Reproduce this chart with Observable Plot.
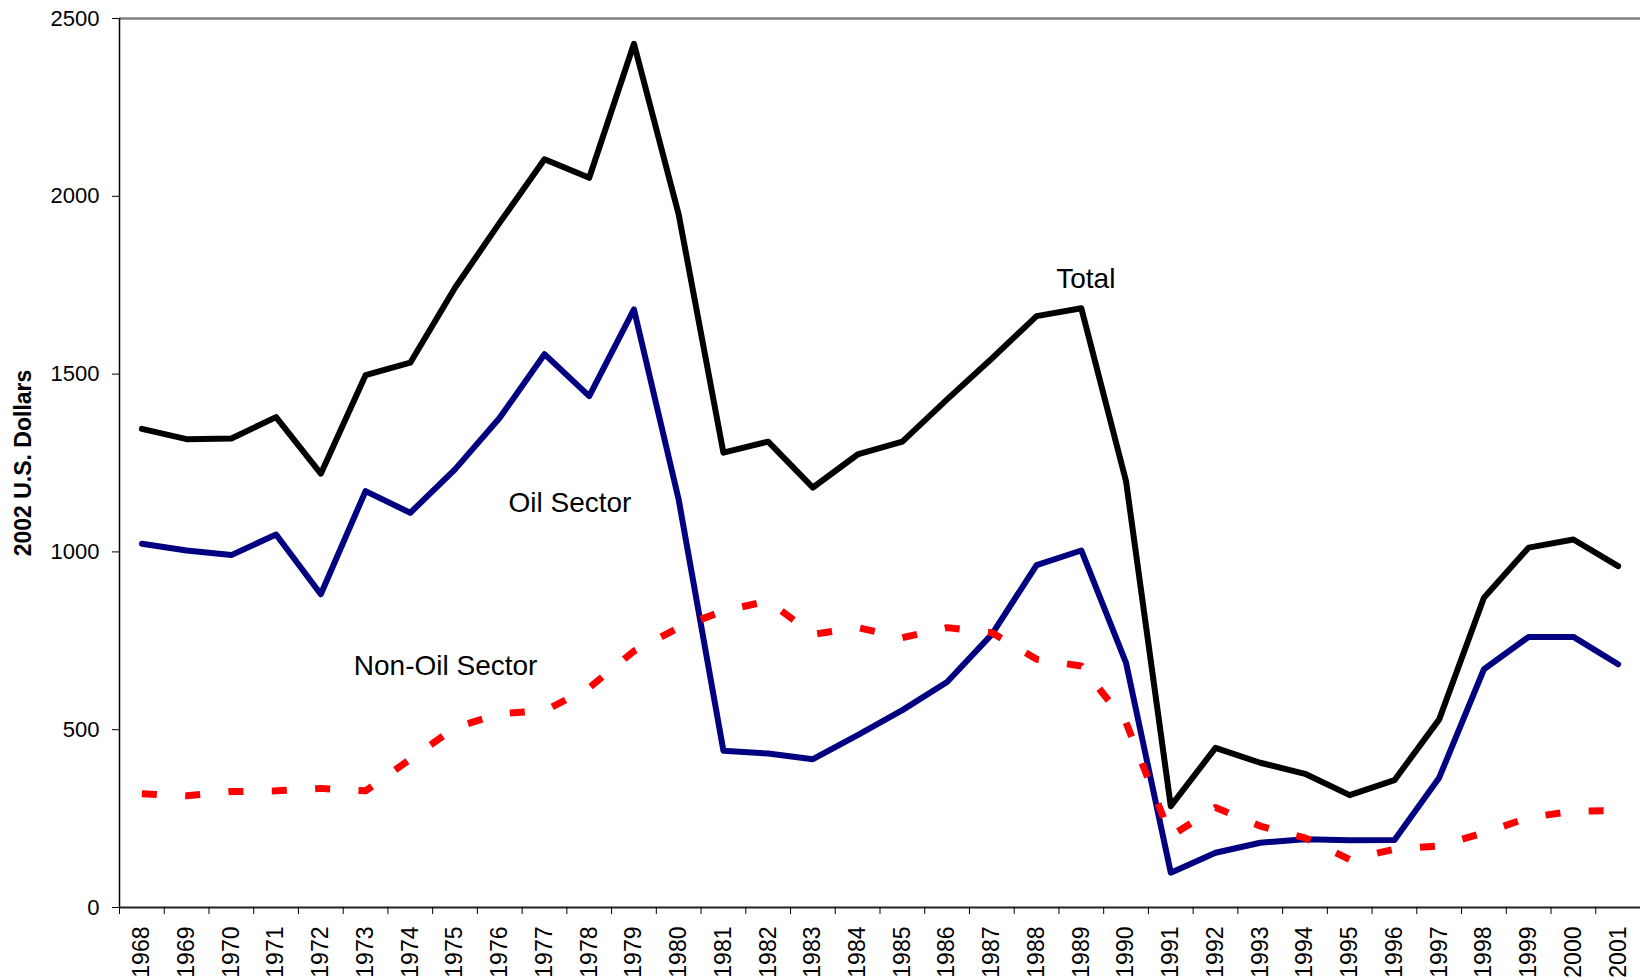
<!DOCTYPE html>
<html><head><meta charset="utf-8">
<script src="https://cdn.jsdelivr.net/npm/d3@7"></script>
<script src="https://cdn.jsdelivr.net/npm/@observablehq/plot@0.6"></script>
<style>html,body{margin:0;padding:0;background:#fff} svg{display:block}</style>
</head><body><div id="chart"></div>
<script>
const years = [1968,1969,1970,1971,1972,1973,1974,1975,1976,1977,1978,1979,1980,1981,1982,1983,1984,1985,1986,1987,1988,1989,1990,1991,1992,1993,1994,1995,1996,1997,1998,1999,2000,2001];
const total = [1346,1317,1319,1379,1220,1497,1532,1743,1926,2104,2052,2429,1949,1279,1310,1181,1274,1310,1429,1544,1663,1685,1199,285,449,407,376,316,358,529,871,1012,1035,960];
const oil = [1023,1004,991,1049,881,1171,1110,1232,1377,1556,1438,1682,1147,441,433,417,485,555,634,768,963,1004,688,98,154,182,192,189,190,365,670,761,761,684];
const nonOil = [320,314,326,328,335,328,417,506,545,553,618,721,787,834,862,768,787,759,787,773,698,679,520,201,281,229,196,135,164,173,210,253,271,273];
const yTicks = [0,500,1000,1500,2000,2500];
const seriesNames = ["Total","Oil Sector","Non-Oil Sector"];
const yLabel = "2002 U.S. Dollars";
const labelYears = [1989.1, 1977.57, 1974.79];
const labelValues = [1768, 1137, 680];

const rows = (vals, s) => years.map((y, i) => ({year: y, value: vals[i], series: s}));
const boundaries = years.map(y => y - 0.5).concat([years[years.length - 1] + 0.5]);
const annotations = seriesNames.map((t, i) => ({text: t, x: labelYears[i], y: labelValues[i]}));

const chart = Plot.plot({
  width: 1640, height: 980,
  marginLeft: 119, marginRight: 0, marginTop: 18, marginBottom: 73,
  style: {fontFamily: "'Liberation Sans', Arial, sans-serif", background: "#fff", color: "#000"},
  x: {type: "linear", domain: [years[0] - 0.5, years[years.length - 1] + 0.5]},
  y: {domain: [0, 2500]},
  marks: [
    Plot.ruleY([2500], {stroke: "#808080", strokeWidth: 2.5}),
    Plot.ruleX([years[0] - 0.5], {stroke: "#000", strokeWidth: 1.5}),
    Plot.ruleY([0], {stroke: "#222", strokeWidth: 2}),
    Plot.axisY({ticks: yTicks, tickSize: 7, tickPadding: 13, fontSize: 22, label: null, tickFormat: d => String(d)}),
    Plot.axisX({ticks: boundaries, tickSize: 7, tickFormat: () => "", label: null}),
    Plot.axisX({ticks: years, tickSize: 0, tickRotate: -90, tickPadding: 19, fontSize: 23, label: null, tickFormat: d => String(d)}),
    Plot.line(rows(total, "Total"), {x: "year", y: "value", stroke: "#000000", strokeWidth: 6}),
    Plot.line(rows(oil, "Oil Sector"), {x: "year", y: "value", stroke: "#000080", strokeWidth: 6}),
    Plot.line(rows(nonOil, "Non-Oil Sector"), {x: "year", y: "value", stroke: "#ff0000", strokeWidth: 7, strokeDasharray: "15,28.4", strokeLinecap: "butt"}),
    Plot.text([yLabel], {frameAnchor: "left", textAnchor: "middle", dx: -96, rotate: -90, fontSize: 23, fontWeight: "bold", fill: "#000"}),
    Plot.text(annotations, {x: "x", y: "y", text: "text", fontSize: 28, fill: "#000"})
  ]
});
document.getElementById("chart").appendChild(chart);
</script>
</body></html>
